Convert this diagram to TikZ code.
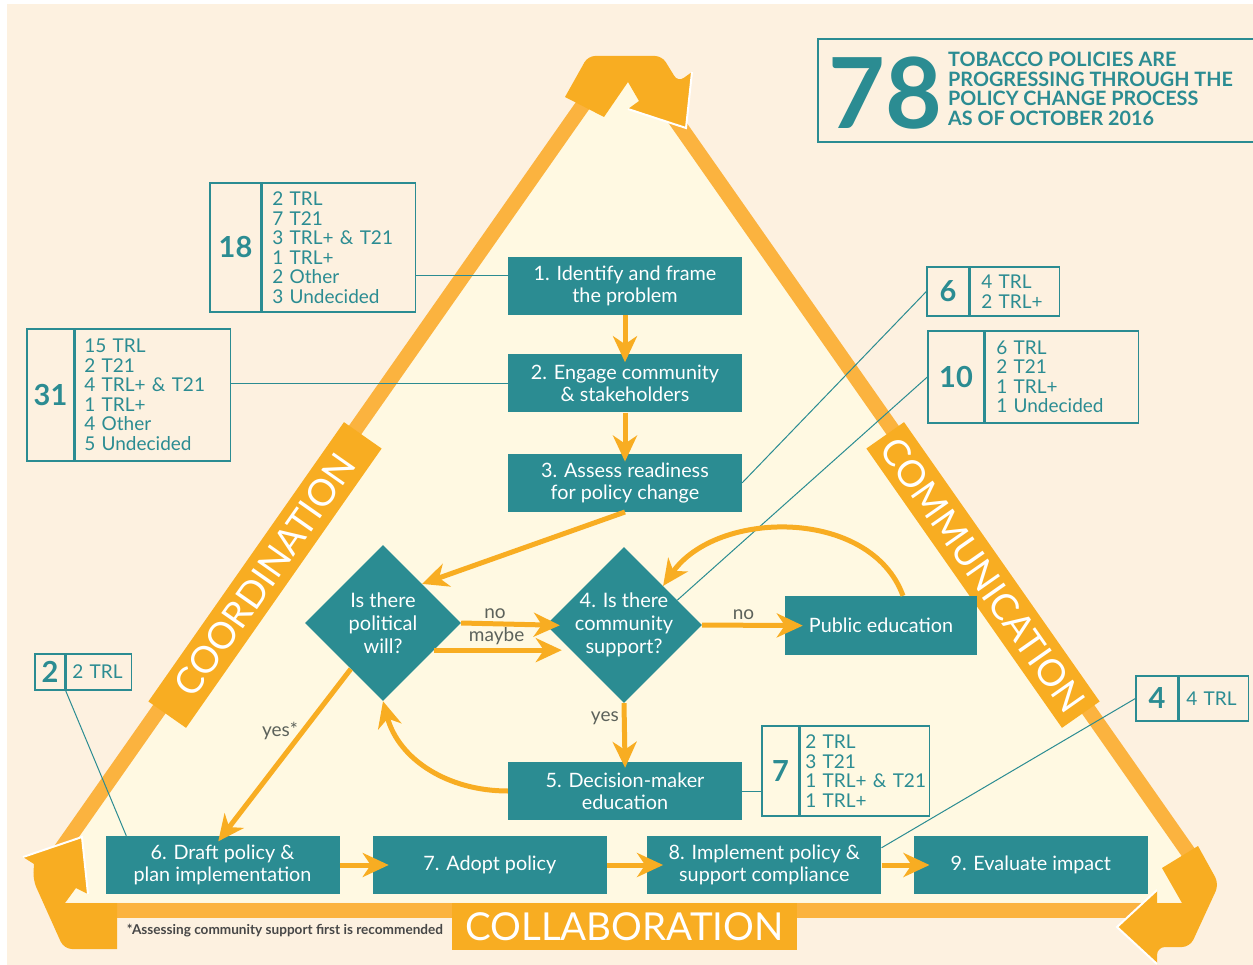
\documentclass[tikz,border=0pt]{standalone}
\usepackage{fontspec}
\setmainfont{Lato}
\usetikzlibrary{arrows.meta, positioning, shapes.geometric}

\definecolor{pagebg}{HTML}{FDF1E0}
\definecolor{innerbg}{HTML}{FFF9E2}
\definecolor{bandorange}{HTML}{FBB33F}
\definecolor{deeporange}{HTML}{F8AD22}
\definecolor{policyteal}{HTML}{2B8C92}
\definecolor{answergray}{HTML}{5C625B}
\definecolor{footgray}{HTML}{474747}

\newcommand{\sizept}[2]{\fontsize{#1}{#2}\selectfont}

\begin{document}
\begin{tikzpicture}[
    x=1pt, y=-1pt,
    node distance=40pt,
    stage/.style={rectangle, fill=policyteal, text=white, minimum width=234pt, minimum height=58pt, inner sep=0pt, align=center, font=\sizept{19.8}{22}},
    query/.style={diamond, fill=policyteal, minimum width=156pt, minimum height=156pt, inner sep=0pt},
    flow/.style={draw=deeporange, line width=5pt, -{Stealth[length=26pt, width=24pt, inset=8pt]}},
    lead/.style={draw=policyteal, line width=1pt},
    countcell/.style={draw=policyteal, line width=1.3pt, text=policyteal, inner sep=0pt, font=\bfseries\sizept{29}{30}},
    listcell/.style={draw=policyteal, line width=1.3pt, text=policyteal, inner ysep=0pt, align=left, font=\sizept{19}{19.5}},
    answer/.style={text=answergray, font=\sizept{19}{20}, inner sep=3pt},
    sidelabel/.style={fill=deeporange, text=white, minimum width=341pt, minimum height=46pt, inner sep=0pt, font=\sizept{37}{38}},
    cornerbend/.style={fill=deeporange},
    rim/.style={draw=white, line width=2pt, line join=miter},
]
\useasboundingbox (0,0) rectangle (1253,965);
\fill[white] (0,0) rectangle (1253,965);
\fill[pagebg] (7,4) rectangle (1253,965);

% triangle: cream inside, orange band on the three sides
\fill[innerbg] (624,59) -- (1192,870) -- (1180,902.5) -- (68,902.5) -- (56,870) -- cycle;
\draw[bandorange, line width=15pt] (55,858) -- (590,95);
\draw[bandorange, line width=15pt] (658,95) -- (1195,862);
\draw[bandorange, line width=15pt] (60,910.5) -- (1190,910.5);

\node[sidelabel, rotate=55] (coord) at (265,575) {COORDINATION};
\node[sidelabel, rotate=-55] (comm) at (983,575) {COMMUNICATION};
\node[sidelabel, minimum width=345pt, minimum height=47pt, font=\sizept{38.5}{40}] (collab) at (624.5,926.5) {COLLABORATION};

% bent arrows at the corners
\fill[cornerbend] (565,97) [rounded corners=7pt] -- (588,56) -- (662,56) -- (678,82) [sharp corners] -- (692,72) -- (686,128) -- (628,109) -- (639,101) -- (628,82) -- (604,117) -- cycle;
\draw[rim] (692,72) -- (686,128) -- (628,109);
\fill[cornerbend] (1162,868) -- (1198,846) [rounded corners=8pt] -- (1219,884) -- (1190,947) -- (1157,947) [sharp corners] -- (1157,964) -- (1117,927) -- (1157,890) -- (1157,903) -- (1182,903) -- cycle;
\draw[rim] (1157,890) -- (1117,927) -- (1157,964);
\fill[cornerbend] (117,903) -- (117,949) [rounded corners=8pt] -- (64,949) -- (33,880) [sharp corners] -- (34,864) -- (23,857) -- (82,837) -- (88,894) -- (76,888) -- (65,903) -- cycle;
\draw[rim] (23,857) -- (82,837) -- (88,894);

% headline
\node[draw=policyteal, line width=1.3pt, minimum width=445pt, minimum height=103pt, inner sep=0pt] (banner) at (1040.5,90.5) {};
\node[text=policyteal, font=\bfseries\sizept{98}{98}, inner sep=0pt] (total) at (885,93) {78};
\node[text=policyteal, font=\bfseries\sizept{19.8}{19.6}, align=left, anchor=west, inner sep=0pt] (claim) at (948,89) {TOBACCO POLICIES ARE\\PROGRESSING THROUGH THE\\POLICY CHANGE PROCESS\\AS OF OCTOBER 2016};

% process steps
\node[stage] (n1) at (625,286) {1. Identify and frame\\the problem};
\node[stage, below=39pt of n1] (n2) {2. Engage community\\\& stakeholders};
\node[stage, below=41pt of n2] (n3) {3. Assess readiness\\for policy change};
\node[query, label={[text=white, align=center, font=\sizept{20}{23}]center:Is there\\political\\will?}] (pw) at (383,623) {};
\node[query, label={[text=white, align=center, font=\sizept{20}{23}]center:4. Is there\\community\\support?}] (cs) at (624,625) {};
\node[stage, minimum width=192pt, minimum height=59pt] (pe) at (881,625.5) {Public education};
\node[stage] (n5) at (625,791) {5. Decision-maker\\education};
\node[stage] (n6) at (222.5,865) {6. Draft policy \&\\plan implementation};
\node[stage, right=33pt of n6] (n7) {7. Adopt policy};
\node[stage, right=40pt of n7] (n8) {8. Implement policy \&\\support compliance};
\node[stage, right=32pt of n8] (n9) {9. Evaluate impact};

% counts per step
\node[countcell, minimum width=51pt, minimum height=129pt] (c18) at (235.5,247.5) {18};
\node[listcell, right=0pt of c18, inner xsep=10pt, text width=133pt, minimum height=129pt] (l18) {2 TRL\\7 T21\\3 TRL+ \& T21\\1 TRL+\\2 Other\\3 Undecided};
\node[countcell, minimum width=47pt, minimum height=132pt] (c31) at (50.5,395) {31};
\node[listcell, right=0pt of c31, inner xsep=9pt, text width=137pt, minimum height=132pt] (l31) {15 TRL\\2 T21\\4 TRL+ \& T21\\1 TRL+\\4 Other\\5 Undecided};
\node[countcell, minimum width=30pt, minimum height=36pt] (c2) at (50,672) {2};
\node[listcell, right=0pt of c2, inner xsep=6pt, text width=53pt, minimum height=36pt] (l2) {2 TRL};
\node[countcell, minimum width=42pt, minimum height=49pt] (c6) at (948,291.5) {6};
\node[listcell, right=0pt of c6, inner xsep=11pt, text width=67pt, minimum height=49pt] (l6) {4 TRL\\2 TRL+};
\node[countcell, minimum width=56pt, minimum height=92pt] (c10) at (956,377) {10};
\node[listcell, right=0pt of c10, inner xsep=11pt, text width=131pt, minimum height=92pt] (l10) {6 TRL\\2 T21\\1 TRL+\\1 Undecided};
\node[countcell, minimum width=42pt, minimum height=45pt] (c4) at (1157,698.5) {4};
\node[listcell, right=0pt of c4, inner xsep=7pt, text width=55pt, minimum height=45pt] (l4) {4 TRL};
\node[countcell, minimum width=37pt, minimum height=90pt] (c7) at (780.5,771) {7};
\node[listcell, right=0pt of c7, inner xsep=5pt, text width=119pt, minimum height=90pt] (l7) {2~TRL\\3~T21\\1~TRL+~\&~T21\\1~TRL+};

% leaders from the counts
\draw[lead] ([yshift=10pt]n1.west) -- ([yshift=10pt]n1.west -| l18.east);
\draw[lead] (n2.west) -- (n2.west -| l31.east);
\draw[lead] (c6.west) -- (n3.east);
\draw[lead] (c10.west) -- (cs.25);
\draw[lead] (c2.south east) -- ([xshift=21pt]n6.north west);
\draw[lead] (n5.east) -- (n5.east -| c7.west);
\draw[lead] (c4.west) -- ([yshift=-12pt]n8.north east);

% flow
\draw[flow, shorten >=-8pt] (n1) -- (n2);
\draw[flow, shorten >=-8pt] (n2) -- (n3);
\draw[flow] (n3.south) -- (pw.north east);
\draw[flow, shorten >=-14pt] (pw.east) -- node[answer, above, pos=0.4]{no} (cs.west);
\draw[flow, shorten >=-16pt] (pw.-28) -- node[answer, above, pos=0.56]{maybe} (pw.-28 -| cs.west);
\draw[flow, shorten >=-18pt] (cs.east) -- node[answer, above]{no} (pe.west);
\draw[flow] ([xshift=22pt]pe.north) to[out=110, in=55, looseness=1.0] (cs.north east);
\draw[flow, shorten >=-6pt] (cs.south) -- node[answer, left, pos=0.25]{yes} (n5.north);
\draw[flow] (n5.west) to[out=180, in=-75] (pw.south);
\draw[flow, shorten >=-7pt] (pw.-125) -- node[answer, left, pos=0.37]{yes*} (n6.north);
\draw[flow, shorten >=-16pt] (n6) -- (n7);
\draw[flow, shorten >=-16pt] (n7) -- (n8);
\draw[flow, shorten >=-16pt] (n8) -- (n9);

\node[text=footgray, font=\bfseries\sizept{13.6}{15}] (footnote) at (285,931) {*Assessing community support first is recommended};
\end{tikzpicture}
\end{document}
